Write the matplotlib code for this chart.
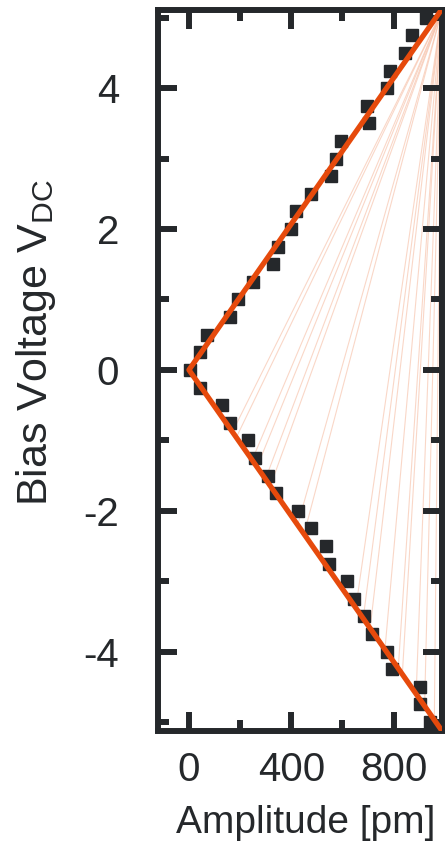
import matplotlib
matplotlib.use("Agg")
import matplotlib.pyplot as plt
from matplotlib.ticker import FixedLocator

plt.rcParams["font.family"] = ["Liberation Sans", "DejaVu Sans"]
plt.rcParams["mathtext.fontset"] = "custom"
plt.rcParams["mathtext.rm"] = "Liberation Sans"
plt.rcParams["axes.unicode_minus"] = False

INK = "#25282b"
FIT = "#e64a0c"
FAN = "#f7c2aa"

# measured points: bias voltage (V) and amplitude (pm)
bias_v = [5.0, 4.75, 4.5, 4.25, 4.0, 3.75, 3.5, 3.25, 3.0, 2.75, 2.5, 2.25,
          2.0, 1.75, 1.5, 1.25, 1.0, 0.75, 0.5, 0.25, 0.0, -0.25, -0.5,
          -0.75, -1.0, -1.25, -1.5, -1.75, -2.0, -2.25, -2.5, -2.75, -3.0,
          -3.25, -3.5, -3.75, -4.0, -4.25, -4.5, -4.75, -5.0]
amp_pm = [926, 873, 845, 787, 775, 697, 703, 595, 576, 556, 478, 419,
          400, 349, 329, 251, 193, 161, 72, 44, 5, 44, 130,
          161, 232, 259, 310, 341, 427, 478, 537, 548, 619,
          646, 685, 716, 775, 795, 904, 904, 943]

# V-shaped fit
fit_v = [5.12, 0.0, -5.12]
fit_amp = [988, 0, 988]

# faint guide lines fanning out from the top-right corner
fan_origin = (987, 5.08)
fan_v = [-0.88, -0.96, -1.28, -1.38, -1.55, -1.65, -2.2, -2.33, -3.38,
         -3.53, -3.67, -3.97, -4.24, -4.32, -4.6, -4.77, -4.97]
fan_amp = [170, 185, 247, 266, 299, 318, 425, 450, 652,
           681, 708, 766, 818, 834, 888, 921, 959]

fig = plt.figure(figsize=(4.45, 8.42), dpi=100)
ax = fig.add_axes([158 / 445, 1 - 730.5 / 842, 284 / 445, 720.5 / 842])

for a, v in zip(fan_amp, fan_v):
    ax.plot([fan_origin[0], a], [fan_origin[1], v], color=FAN, lw=0.8,
            alpha=0.65, zorder=1)
ax.plot(amp_pm, bias_v, ls="none", marker="s", ms=9.1, color=INK,
        mec=INK, zorder=2)
ax.plot(fit_amp, fit_v, color=FIT, lw=3.8, solid_capstyle="round", zorder=3)

ax.set_xlim(-121, 989)
ax.set_ylim(-5.12, 5.11)
ax.xaxis.set_major_locator(FixedLocator([0, 400, 800]))
ax.xaxis.set_minor_locator(FixedLocator([200, 600]))
ax.yaxis.set_major_locator(FixedLocator([-4, -2, 0, 2, 4]))
ax.yaxis.set_minor_locator(FixedLocator([-5, -3, -1, 1, 3, 5]))

for s in ax.spines.values():
    s.set_linewidth(4.3)
    s.set_color(INK)
ax.tick_params(which="both", direction="in", top=True, right=True,
               width=4.3, color=INK, labelcolor=INK, labelsize=29)
ax.tick_params(which="major", length=14)
ax.tick_params(which="minor", length=8)
ax.tick_params(axis="x", pad=15)
ax.tick_params(axis="y", pad=28)

ax.set_xlabel("Amplitude [pm]", fontsize=28, color=INK, va="baseline")
ax.xaxis.set_label_coords(0.5204, -0.1418)
ax.set_ylabel(r"Bias Voltage V$_{\mathrm{DC}}$", fontsize=31, color=INK,
              va="baseline", rotation_mode="anchor")
ax.yaxis.set_label_coords(-0.3926, 0.5378)

fig.savefig("out.png", dpi=100)
